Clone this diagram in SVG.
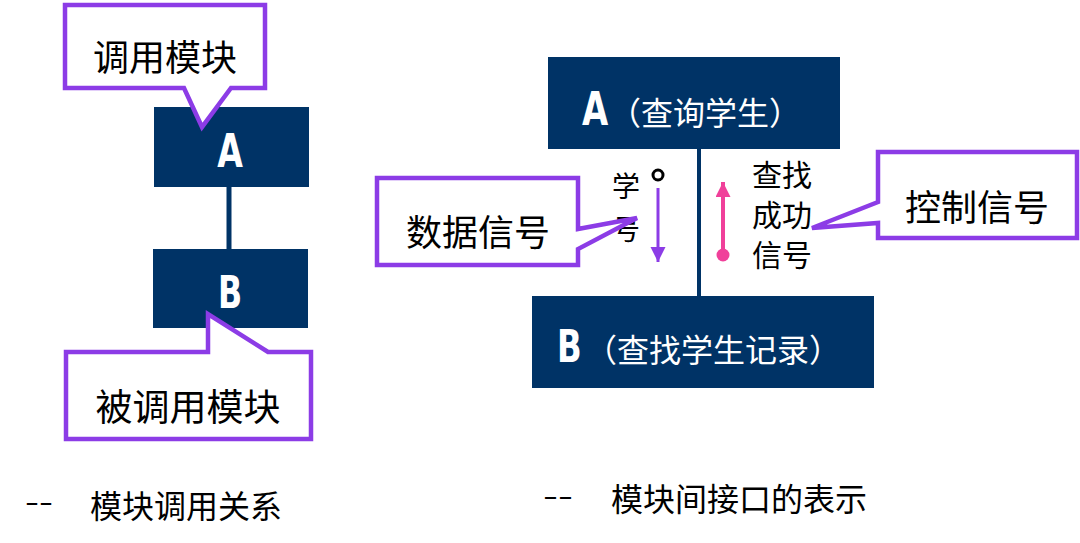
<svg xmlns="http://www.w3.org/2000/svg" width="1080" height="543" viewBox="0 0 1080 543">
<style>
.box{fill:#003366}
.callout{fill:#ffffff;stroke:#8c3ce6;stroke-width:4.5;stroke-linejoin:miter}
.cjk{font-family:"Noto Sans CJK SC","Noto Sans",sans-serif;fill:#000000}
.wcjk{font-family:"Noto Sans CJK SC","Noto Sans",sans-serif;fill:#ffffff}
.let{font-family:"DejaVu Sans Condensed","DejaVu Sans",sans-serif;font-weight:bold;fill:#ffffff}
.link{stroke:#003366;stroke-width:5}
</style>
<defs>
<marker id="purpleHead" markerUnits="userSpaceOnUse" markerWidth="16" markerHeight="16" refX="15" refY="7.5" orient="auto">
<path d="M0,0 L15,7.5 L0,15 Z" fill="#8c3ce6"/>
</marker>
<marker id="pinkHead" markerUnits="userSpaceOnUse" markerWidth="16" markerHeight="16" refX="15" refY="7.5" orient="auto">
<path d="M0,0 L15,7.5 L0,15 Z" fill="#f0409a"/>
</marker>
</defs>
<rect width="1080" height="543" fill="#ffffff"/>

<g id="connectors">
<line class="link" x1="229" y1="187" x2="229" y2="249"/>
<line class="link" x1="699" y1="149" x2="699" y2="296" style="stroke-width:4"/>
<line x1="658" y1="188" x2="658" y2="262" stroke="#8c3ce6" stroke-width="3" marker-end="url(#purpleHead)"/>
<circle cx="658" cy="175" r="5" fill="#ffffff" stroke="#000000" stroke-width="3"/>
<line x1="723" y1="255" x2="723" y2="182" stroke="#f0409a" stroke-width="4" marker-end="url(#pinkHead)"/>
<circle cx="723" cy="255" r="6.5" fill="#f0409a"/>
</g>

<g id="left-A">
<rect class="box" x="154" y="107" width="155" height="80"/>
<text class="let" transform="translate(230,167) scale(0.8,1)" font-size="46" text-anchor="middle">A</text>
</g>

<g id="left-B">
<rect class="box" x="153" y="249" width="155" height="79"/>
<text class="let" transform="translate(230,308) scale(0.8,1)" font-size="44" text-anchor="middle" style="font-weight:600">B</text>
</g>

<g id="callout-caller">
<path class="callout" d="M65,5 L265,5 L265,88 L231,88 L202,127 L184,88 L65,88 Z"/>
<text class="cjk" x="165" y="71" font-size="36" text-anchor="middle">调用模块</text>
</g>

<g id="callout-callee">
<path class="callout" d="M66,352 L208,352 L208,314 L268,352 L311,352 L311,439 L66,439 Z"/>
<text class="cjk" x="188" y="421" font-size="37" text-anchor="middle">被调用模块</text>
</g>

<g id="right-A">
<rect class="box" x="548" y="57" width="292" height="92"/>
<text class="let" transform="translate(582,125) scale(0.8,1)" font-size="47">A</text>
<text class="wcjk" x="609" y="125" font-size="32">（查询学生）</text>
</g>

<g id="right-B">
<rect class="box" x="532" y="296" width="342" height="92"/>
<text class="let" transform="translate(557,362) scale(0.8,1)" font-size="45">B</text>
<text class="wcjk" x="585" y="362" font-size="32">（查找学生记录）</text>
</g>

<g id="data-label">
<text class="cjk" x="612" y="197" font-size="28">学</text>
<text class="cjk" x="612" y="240" font-size="28">号</text>
</g>

<g id="control-label">
<text class="cjk" x="752" y="186" font-size="30">查找</text>
<text class="cjk" x="752" y="226" font-size="30">成功</text>
<text class="cjk" x="752" y="266" font-size="30">信号</text>
</g>

<g id="callout-data">
<path class="callout" d="M377,178 L578,178 L578,229 L637,218 L578,249 L578,265 L377,265 Z"/>
<text class="cjk" x="478" y="246" font-size="36" text-anchor="middle">数据信号</text>
</g>

<g id="callout-control">
<path class="callout" d="M878,152 L1077,152 L1077,238 L878,238 L878,223 L812,228 L878,202 Z"/>
<text class="cjk" x="977" y="221" font-size="36" text-anchor="middle">控制信号</text>
</g>

<g id="caption-left">
<text class="cjk" x="25" y="512" font-size="30" textLength="28" lengthAdjust="spacingAndGlyphs">--</text>
<text class="cjk" x="90" y="518" font-size="32">模块调用关系</text>
</g>

<g id="caption-right">
<text class="cjk" x="543" y="506" font-size="30" textLength="30" lengthAdjust="spacingAndGlyphs">--</text>
<text class="cjk" x="611" y="511" font-size="32">模块间接口的表示</text>
</g>
</svg>
